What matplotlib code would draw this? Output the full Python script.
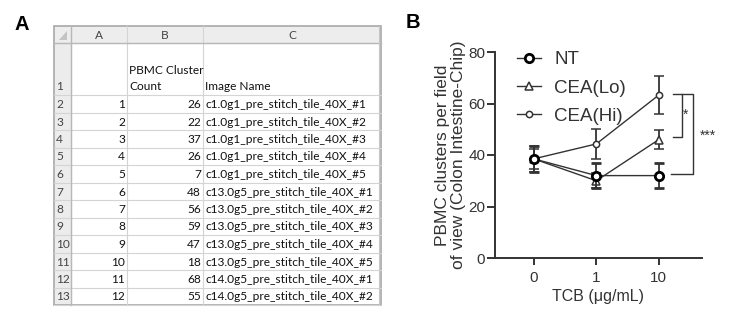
import numpy as np
import matplotlib
matplotlib.use("Agg")
import matplotlib.pyplot as plt
from matplotlib.patches import Rectangle, Polygon

# ---- panel A: spreadsheet contents
col_letters = ["A", "B", "C"]
row_ids = list(range(1, 13))
cluster_counts = [26, 22, 37, 26, 7, 48, 56, 59, 47, 18, 68, 55]
image_names = ["c1.0g1_pre_stitch_tile_40X_#%d" % i for i in range(1, 6)] + \
              ["c13.0g5_pre_stitch_tile_40X_#%d" % i for i in range(1, 6)] + \
              ["c14.0g5_pre_stitch_tile_40X_#%d" % i for i in range(1, 3)]

# ---- panel B: PBMC clusters per field of view
doses = ["0", "1", "10"]
nt_mean = [38.5, 32.0, 32.0]
nt_err = [5.0, 5.0, 4.7]
lo_mean = [38.5, 30.0, 46.0]
lo_err = [4.0, 3.0, 3.8]
hi_mean = [38.5, 44.3, 63.3]
hi_err = [5.0, 5.8, 7.2]

plt.rcParams['font.family'] = ['Liberation Sans', 'DejaVu Sans']
ink = '#333333'

fig = plt.figure(figsize=(7.5, 3.21), dpi=100)

# background axes in pixel coords for the spreadsheet
bg = fig.add_axes([0, 0, 1, 1])
bg.set_xlim(0, 750)
bg.set_ylim(321, 0)
bg.axis('off')

cols = [54, 71, 127, 203, 381]   # column edges
top, head_bot, row1_bot, rh = 26, 43, 95, 17.5
n = len(row_ids)
bottom = row1_bot + n * rh
tfont = ['Lato', 'DejaVu Sans']
tsize = 8.6
grid = '#d4d4d4'

# header fills
bg.add_patch(Rectangle((cols[0], top), cols[-1] - cols[0], head_bot - top,
                       facecolor='#ededed', edgecolor='none'))
bg.add_patch(Rectangle((cols[0], head_bot), cols[1] - cols[0], bottom - head_bot,
                       facecolor='#ececec', edgecolor='none'))
# grid lines
ys = [row1_bot + i * rh for i in range(n + 1)]
for y in [head_bot] + ys:
    bg.plot([cols[0], cols[-1]], [y, y], color=grid, lw=0.8)
for x in cols[1:-1]:
    bg.plot([x, x], [top, bottom], color=grid, lw=0.8)
bg.plot([cols[0], cols[-1]], [head_bot, head_bot], color='#b8b8b8', lw=1)
bg.plot([cols[1], cols[1]], [top, bottom], color='#b8b8b8', lw=1)
bg.add_patch(Rectangle((cols[0], top), cols[-1] - cols[0], bottom - top,
                       facecolor='none', edgecolor='#a8a8a8', lw=1.2))
bg.plot([cols[-1] - 2, cols[-1] - 2], [top, bottom], color='#c8c8c8', lw=0.8)
# select-all triangle
bg.add_patch(Polygon([[67, 31], [67, 40], [59, 40]], closed=True,
                     facecolor='#c4c4c4', edgecolor='none'))

for i, c in enumerate(col_letters):
    bg.text((cols[i + 1] + cols[i + 2]) / 2, (top + head_bot) / 2 + 1, c,
            ha='center', va='center', fontsize=tsize, color='#444444', family=tfont)

# row 1
bg.text(cols[0] + 2, row1_bot - 5, "1", ha='left', va='baseline', fontsize=tsize,
        color='#444444', family=tfont)
bg.text(cols[2] + 2, row1_bot - 21, "PBMC Cluster", ha='left', va='baseline',
        fontsize=tsize, color='#111111', family=tfont)
bg.text(cols[2] + 2, row1_bot - 5, "Count", ha='left', va='baseline',
        fontsize=tsize, color='#111111', family=tfont)
bg.text(cols[3] + 2, row1_bot - 5, "Image Name", ha='left', va='baseline',
        fontsize=tsize, color='#111111', family=tfont)

for i in range(n):
    yb = ys[i + 1] - 4.5
    bg.text(cols[0] + 2, yb, str(i + 2), ha='left', va='baseline', fontsize=tsize,
            color='#444444', family=tfont)
    bg.text(cols[2] - 2, yb, str(row_ids[i]), ha='right', va='baseline',
            fontsize=tsize, color='#111111', family=tfont)
    bg.text(cols[3] - 2, yb, str(cluster_counts[i]), ha='right', va='baseline',
            fontsize=tsize, color='#111111', family=tfont)
    bg.text(cols[3] + 2, yb, image_names[i], ha='left', va='baseline',
            fontsize=tsize, color='#111111', family=tfont)

bg.text(22, 25, "A", ha='center', va='center', fontsize=14.5, fontweight='bold', color='black')
bg.text(413, 23, "B", ha='center', va='center', fontsize=14.5, fontweight='bold', color='black')

# ---- panel B
ax = fig.add_axes([495 / 750, 1 - 258 / 321, 207 / 750, 206 / 321])
x = np.arange(len(doses))
ekw = dict(color=ink, lw=1, elinewidth=1.3, capsize=3.5, capthick=1.3)
ax.errorbar(x, hi_mean, yerr=hi_err, marker='o', ms=4.5, mfc='white', mec=ink,
            mew=1.1, label='CEA(Hi)', zorder=3, **ekw)
ax.errorbar(x, lo_mean, yerr=lo_err, marker='^', ms=5.5, mfc='white', mec=ink,
            mew=1.1, label='CEA(Lo)', zorder=4, **ekw)
ax.errorbar(x, nt_mean, yerr=nt_err, marker='o', ms=6, mfc='white', mec='black',
            mew=2, label='NT', zorder=5, **ekw)

ax.set_xlim(-0.62, 2.69)
ax.set_ylim(0, 80)
ax.set_xticks(x)
ax.set_xticklabels(doses)
ax.set_yticks([0, 20, 40, 60, 80])
for s in ['top', 'right']:
    ax.spines[s].set_visible(False)
for s in ['left', 'bottom']:
    ax.spines[s].set_linewidth(1.4)
    ax.spines[s].set_color(ink)
ax.tick_params(axis='both', colors=ink, labelsize=11, width=1.4, length=6, pad=1)
ax.tick_params(axis='x', length=5, pad=4)
ax.set_xlabel("TCB (\u03bcg/mL)", fontsize=11.5, color=ink, labelpad=3)
ax.set_ylabel("PBMC clusters per field\nof view (Colon Intestine-Chip)", fontsize=12.5,
              color=ink, labelpad=2, linespacing=1.05)

# significance brackets
ax.plot([2.22, 2.37, 2.37, 2.22], [63.6, 63.6, 46.9, 46.9], color=ink, lw=1, clip_on=False)
ax.plot([2.37, 2.54, 2.54, 2.19], [63.6, 63.6, 32.5, 32.5], color=ink, lw=1, clip_on=False)
ax.text(2.43, 55.5, "*", ha='center', va='center', fontsize=10, color=ink)
ax.text(2.78, 47.5, "***", ha='center', va='center', fontsize=10, color=ink, clip_on=False)

h, l = ax.get_legend_handles_labels()
order = [2, 1, 0]
leg = ax.legend([h[i][0] for i in order], [l[i] for i in order], loc='upper left',
                bbox_to_anchor=(0.06, 1.05), frameon=False, fontsize=13.5,
                handlelength=1.3, handletextpad=0.7, labelspacing=0.6, borderpad=0)
for t in leg.get_texts():
    t.set_color(ink)

fig.savefig("out.png", dpi=100)
